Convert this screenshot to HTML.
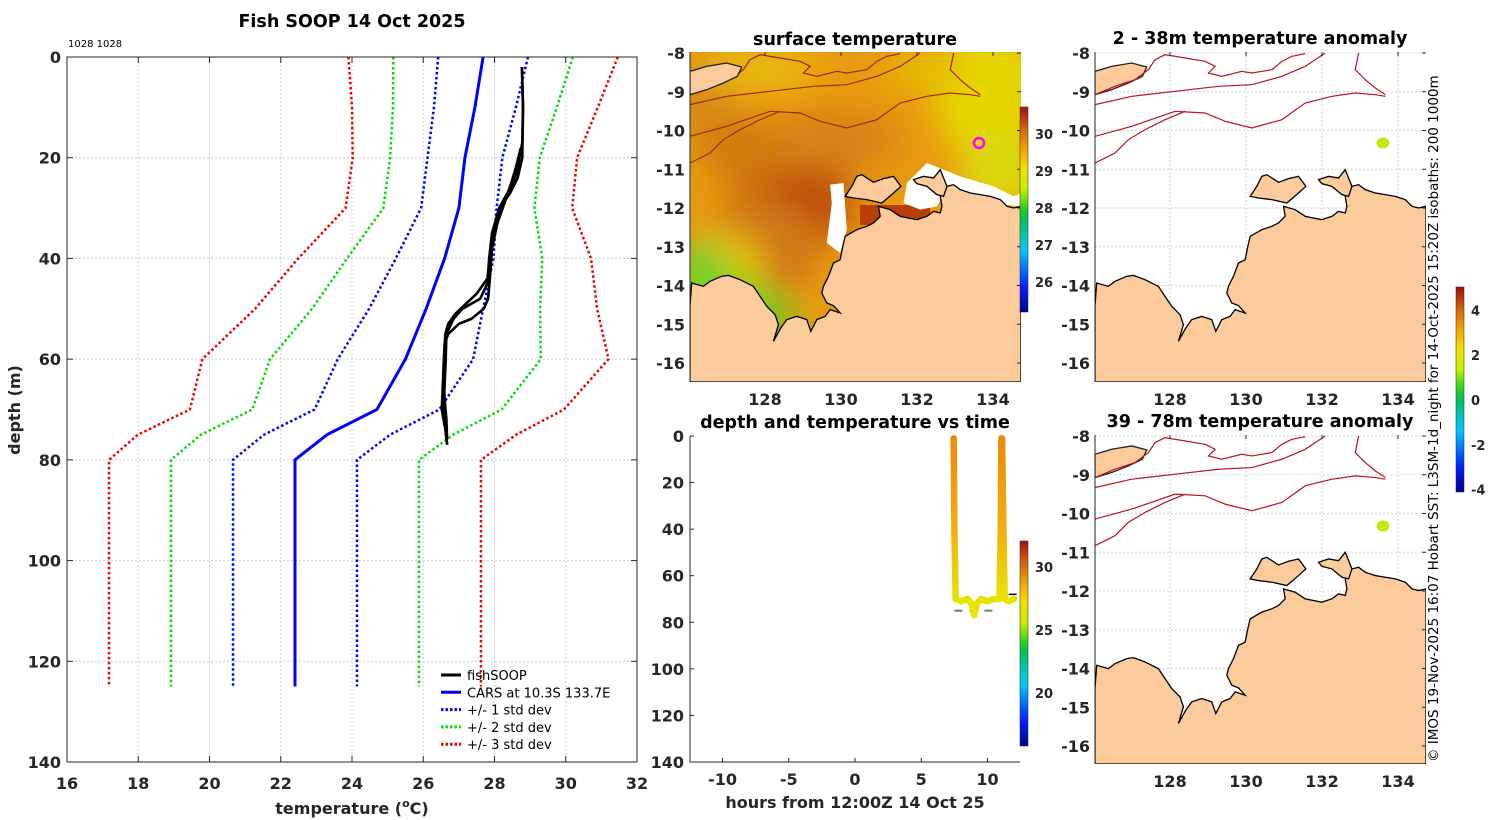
<!DOCTYPE html>
<html><head><meta charset="utf-8"><style>
html,body{margin:0;padding:0;background:#fff;}
svg{display:block;font-family:"DejaVu Sans","Liberation Sans",sans-serif;}
.tk{font-weight:bold;font-size:16px;fill:#262626;}
.ttl{font-weight:bold;font-size:17.5px;fill:#000;}
</style></head><body>
<svg id="root" width="1500" height="820" viewBox="0 0 1500 820" xmlns="http://www.w3.org/2000/svg">
<defs>
<linearGradient id="jet" x1="0" y1="1" x2="0" y2="0">
<stop offset="0" stop-color="#00008f"/><stop offset="0.12" stop-color="#0020ff"/><stop offset="0.3" stop-color="#00c8ff"/><stop offset="0.45" stop-color="#00c060"/><stop offset="0.5" stop-color="#20d020"/><stop offset="0.6" stop-color="#c8f000"/><stop offset="0.7" stop-color="#f0e000"/><stop offset="0.8" stop-color="#f0a000"/><stop offset="0.9" stop-color="#d06010"/><stop offset="1" stop-color="#a01010"/>
</linearGradient>
<linearGradient id="depthGrad" gradientUnits="userSpaceOnUse" x1="0" y1="436" x2="0" y2="600">
<stop offset="0" stop-color="#ea8a08"/><stop offset="0.5" stop-color="#f2a810"/><stop offset="1" stop-color="#e6e400"/>
</linearGradient>
<filter id="blur" x="-50%" y="-50%" width="200%" height="200%"><feGaussianBlur stdDeviation="16"/></filter>
<clipPath id="clipA"><rect x="690" y="52" width="331" height="330"/></clipPath>
<clipPath id="clipB"><rect x="1095" y="52" width="331" height="330"/></clipPath>
<clipPath id="clipC"><rect x="1095" y="435" width="331" height="329"/></clipPath>
</defs>
<g id="profile"></g>
<g id="maps"></g>
<g id="timeplot"></g>
</svg>
<script>
// ---------- profile chart data ----------
const carsDepths = [0,10,20,30,40,50,60,70,75,80,125];
const carsMean = [27.68,27.45,27.17,27.0,26.6,26.08,25.5,24.7,23.3,22.4,22.4];
const carsStd = [1.26,1.15,1.05,1.06,1.37,1.6,1.9,1.75,1.77,1.74,1.74];
const fishDepth1 = [2,10,17,20,23,26,30,35,40,45,48,50,52,55,60,65,70,73,75,77];
const fishTemp1 = [28.77,28.8,28.78,28.7,28.63,28.44,28.13,27.93,27.85,27.8,27.6,27.1,26.85,26.65,26.63,26.6,26.56,26.62,26.64,26.67];
const fishDepth2 = [2,10,20,24,27,30,35,40,44,47,49,51,53,55,60,65,70,74,77];
const fishTemp2 = [28.77,28.8,28.78,28.65,28.44,28.15,28.0,27.88,27.8,27.5,27.2,26.9,26.7,26.62,26.58,26.55,26.52,26.62,26.67];
const fishDepth3 = [18,22,25,28,33,38,44,48,50,52,53,55,57,62,68,72,76];
const fishTemp3 = [28.74,28.6,28.47,28.33,28.08,27.93,27.87,27.82,27.7,27.35,27.0,26.7,26.6,26.57,26.6,26.65,26.67];
const tempTicks = [16,18,20,22,24,26,28,30,32];
const depthTicks = [0,20,40,60,80,100,120,140];
const legendLabels = ["fishSOOP","CARS at 10.3S 133.7E","+/- 1 std dev","+/- 2 std dev","+/- 3 std dev"];
// ---------- time plot data ----------
const hoursVals = [7.45,7.5,7.6,8.0,8.5,8.8,9.0,9.2,9.5,10.0,10.5,10.9,11.0,11.05,11.1,11.2,11.3,11.6,12.0];
const hoursDepths = [1,40,70,71,70,72,77,72,70,71,70,70,40,1,1,40,70,71,70];
const hourTicks = [-10,-5,0,5,10];
const timeDepthTicks = [0,20,40,60,80,100,120,140];
const sstTicks = [26,27,28,29,30];
const tsTicks = [20,25,30];
const anomTicks = [-4,-2,0,2,4];
const latTicks = [-8,-9,-10,-11,-12,-13,-14,-15,-16];
const lonTicks = [128,130,132,134];

const NS="http://www.w3.org/2000/svg";
function mk(parent,tag,attrs,text){const e=document.createElementNS(NS,tag);for(const k in attrs)e.setAttribute(k,attrs[k]);if(text!==undefined)e.textContent=text;parent.appendChild(e);return e;}

// ---------- profile chart ----------
const P=document.getElementById('profile');
const px0=67,px1=637,py0=57,py1=762;
const xT=t=>px0+(t-16)*(px1-px0)/16;
const yD=d=>py0+d*(py1-py0)/140;
let e;
for(const t of tempTicks){
  if(t>16&&t<32){e=mk(P,'line',{x1:xT(t),x2:xT(t),y1:py0,y2:py1,stroke:'#c8cce0','stroke-width':1,'stroke-dasharray':'2 2'});}
  e=mk(P,'text',{x:xT(t),y:py1+27,'text-anchor':'middle',class:'tk'},String(t));
  
  mk(P,'line',{x1:xT(t),x2:xT(t),y1:py1,y2:py1-6,stroke:'#262626'});
  mk(P,'line',{x1:xT(t),x2:xT(t),y1:py0,y2:py0+6,stroke:'#262626'});
}
for(const d of depthTicks){
  if(d>0&&d<140){e=mk(P,'line',{x1:px0,x2:px1,y1:yD(d),y2:yD(d),stroke:'#c8cce0','stroke-width':1,'stroke-dasharray':'2 2'});}
  e=mk(P,'text',{x:px0-6,y:yD(d)+6,'text-anchor':'end',class:'tk'},String(d));
  
  mk(P,'line',{x1:px0,x2:px0+6,y1:yD(d),y2:yD(d),stroke:'#262626'});
  mk(P,'line',{x1:px1,x2:px1-6,y1:yD(d),y2:yD(d),stroke:'#262626'});
}
const stdColors=['#0000ff','#00e000','#f00000'];
for(let k=1;k<=3;k++){
  for(const s of [-1,1]){
    const pts=carsDepths.map((d,i)=>xT(carsMean[i]+s*k*carsStd[i])+','+yD(d)).join(' ');
    e=mk(P,'polyline',{points:pts,fill:'none',stroke:stdColors[k-1],'stroke-width':2.5,'stroke-dasharray':'2.5 2.5'});
    
  }
}
e=mk(P,'polyline',{points:carsDepths.map((d,i)=>xT(carsMean[i])+','+yD(d)).join(' '),fill:'none',stroke:'#0000ff','stroke-width':3});

[[fishDepth1,fishTemp1],[fishDepth2,fishTemp2],[fishDepth3,fishTemp3]].forEach((p,j)=>{
  e=mk(P,'polyline',{points:p[0].map((d,i)=>xT(p[1][i])+','+yD(d)).join(' '),fill:'none',stroke:'#000','stroke-width':2.6,'stroke-linejoin':'round'});
  
});
mk(P,'rect',{x:px0,y:py0,width:px1-px0,height:py1-py0,fill:'none',stroke:'#262626','stroke-width':1});
e=mk(P,'text',{x:352,y:27,'text-anchor':'middle',class:'ttl','font-size':'18px'},'Fish SOOP 14 Oct 2025');

e=mk(P,'text',{x:68,y:47,'font-size':'10px',fill:'#000'},'1028 1028');

e=mk(P,'text',{x:352,y:814,'text-anchor':'middle',class:'tk','font-size':'17px'});

e.innerHTML='temperature (<tspan dy="-7" font-size="11">o</tspan><tspan dy="7">C)</tspan>';
e=mk(P,'text',{x:0,y:0,'text-anchor':'middle',class:'tk','font-size':'17px',transform:'translate(20,410) rotate(-90)'},'depth (m)');

const legStyles=[['#000',''],['#0000ff',''],['#0000ff','2.5 2'],['#00e000','2.5 2'],['#f00000','2.5 2']];
legendLabels.forEach((l,i)=>{
  const y=675+i*17.3;
  const g=mk(P,'g',{});
  
  const a={x1:441,x2:461,y1:y,y2:y,stroke:legStyles[i][0],'stroke-width':3};
  if(legStyles[i][1])a['stroke-dasharray']=legStyles[i][1];
  mk(g,'line',a);
  mk(g,'text',{x:467,y:y+5,'font-size':'13px',fill:'#000'},l);
});

// ---------- maps ----------
const M=document.getElementById('maps');
const coast=[[90,830],[95,760],[130,770],[150,755],[185,740],[205,737],[240,750],[280,770],[300,800],[320,830],[345,855],[355,885],[340,935],[362,895],[380,870],[410,860],[440,870],[452,905],[470,870],[495,860],[510,840],[540,850],[520,828],[500,820],[485,790],[490,770],[505,740],[520,700],[540,690],[548,650],[555,620],[590,600],[620,590],[640,580],[660,560],[655,530],[690,540],[720,560],[770,570],[800,560],[820,545],[840,550],[845,530],[840,500],[860,470],[880,465],[900,480],[930,490],[960,495],[990,500],[1020,510],[1040,530],[1060,535],[1082,530],[1082,1057],[90,1057]];
const island=[[555,500],[575,470],[590,440],[605,435],[640,458],[670,447],[700,440],[722,470],[700,490],[665,520],[620,510],[580,505]];
const cobourg=[[760,450],[790,440],[820,445],[840,420],[860,470],[850,500],[830,495],[800,470],[770,462]];
const timor=[[90,125],[140,110],[200,100],[245,112],[232,140],[190,160],[140,180],[90,195]];
const contours=[
 [[90,320],[200,290],[330,245],[420,250],[480,275],[560,295],[650,270],[720,220],[800,200],[870,190],[930,195],[960,200]],
 [[90,400],[150,370],[190,330],[240,300],[300,270],[360,245]],
 [[90,225],[200,200],[330,185],[460,170],[560,165],[650,140],[720,110],[780,70]],
 [[90,195],[150,170],[210,150],[250,120],[270,90],[300,75],[360,85],[420,95],[450,110],[430,130],[470,140],[530,125],[560,130],[620,120],[650,95],[680,80],[720,72]],
 [[880,70],[870,120],[900,150],[930,175],[960,195]]
];
function proj(box,p){return [box.x+(p[0]-90)/992*box.w, box.y+(p[1]-67)/990*box.h];}
function poly(g,box,pts,attrs,name){
  const el=mk(g,'polygon',Object.assign({points:pts.map(p=>proj(box,p).join(',')).join(' ')},attrs));
  return el;}
function pline(g,box,pts,attrs,name){
  const el=mk(g,'polyline',Object.assign({points:pts.map(p=>proj(box,p).join(',')).join(' '),fill:'none'},attrs));
  return el;}
function axesTicks(box,name){
  latTicks.forEach((lat,i)=>{
    const y=box.y+1+i*38.75;
    const t=mk(M,'text',{x:box.x-5,y:y+6,'text-anchor':'end',class:'tk'},String(lat));
    
    mk(M,'line',{x1:box.x+box.w,x2:box.x+box.w-4,y1:y,y2:y,stroke:'#262626'});
  });
  lonTicks.forEach(lon=>{
    const x=box.x+75+(lon-128)*38;
    const t=mk(M,'text',{x:x,y:box.y+box.h+23,'text-anchor':'middle',class:'tk'},String(lon));
    
    mk(M,'line',{x1:x,x2:x,y1:box.y,y2:box.y+4,stroke:'#262626'});
  });
}
function drawLand(g,box){
  poly(g,box,coast,{fill:'#fbcb9b',stroke:'#000','stroke-width':1.3},'mainland');
  poly(g,box,island,{fill:'#fbcb9b',stroke:'#000','stroke-width':1.3},'melville-island');
  poly(g,box,cobourg,{fill:'#fbcb9b',stroke:'#000','stroke-width':1.3},'cobourg-peninsula');
  poly(g,box,timor,{fill:'#fbcb9b',stroke:'#222','stroke-width':1.3},'timor-land');
}
// SST map
const boxA={x:690,y:52,w:331,h:330};
let gA=mk(M,'g',{'clip-path':'url(#clipA)'});

mk(gA,'rect',{x:690,y:52,width:331,height:330,fill:'#e89a10'});
const blobs=[[990,95,55,70,'#e6d600'],[1000,170,40,40,'#dcd810'],[930,70,40,20,'#e6c000'],[790,180,60,60,'#cf6a10'],[810,205,45,40,'#c05010'],[760,250,60,50,'#d07814'],[830,140,70,30,'#d88012'],[720,270,45,40,'#e8c010'],[725,300,50,25,'#70d820'],[700,262,25,18,'#50d030'],[760,318,40,18,'#5cd020'],[700,105,40,40,'#d88a12'],[740,150,40,30,'#d07a10'],[760,70,60,18,'#e8c010']];
const gb=mk(gA,'g',{filter:'url(#blur)'});
blobs.forEach(b=>{const el=mk(gb,'ellipse',{cx:b[0],cy:b[1],rx:b[2],ry:b[3],fill:b[4]});});
mk(gA,'rect',{x:860,y:205,width:70,height:20,fill:'#b84008'});
poly(gA,boxA,[[510,465],[550,460],[560,600],[540,670],[500,640],[515,520]],{fill:'#fff'},'cloud-patch');
poly(gA,boxA,[[740,460],[800,400],[850,420],[900,440],[1000,470],[1060,500],[1082,490],[1082,530],[990,520],[930,500],[860,480],[830,530],[780,540],[730,520]],{fill:'#fff'},'cloud-patch');
contours.forEach(c=>pline(gA,boxA,c,{stroke:'#a02808','stroke-width':1.2},'isobath-contour'));
drawLand(gA,boxA);
e=mk(M,'circle',{cx:979,cy:143,r:5,fill:'none',stroke:'#ff00ff','stroke-width':2.5});

mk(M,'line',{x1:690,x2:690,y1:52,y2:382,stroke:'#262626'});
axesTicks(boxA,'sst');
e=mk(M,'text',{x:855,y:45,'text-anchor':'middle',class:'ttl'},'surface temperature');

e=mk(M,'rect',{x:1020,y:107,width:8,height:205,fill:'url(#jet)',stroke:'#262626','stroke-width':0.5});

const sstY=v=>134+(30-v)*37;
sstTicks.forEach(v=>{const t=mk(M,'text',{x:1035,y:sstY(v)+5,'font-size':'13px','font-weight':'bold',fill:'#262626'},String(v));});

// anomaly maps
const boxB={x:1095,y:52,w:331,h:330}, boxC={x:1095,y:435,w:331,h:329};
[[boxB,'clipB','2 - 38m temperature anomaly','anom-top'],[boxC,'clipC','39 - 78m temperature anomaly','anom-bottom']].forEach(cfg=>{
  const b=cfg[0];
  const g=mk(M,'g',{'clip-path':'url('+'#'+cfg[1]+')'});
  
  mk(g,'rect',{x:b.x,y:b.y,width:b.w,height:b.h,fill:'#fff'});
  latTicks.forEach((lat,i)=>mk(g,'line',{x1:b.x,x2:b.x+b.w,y1:b.y+1+i*38.75,y2:b.y+1+i*38.75,stroke:'#c8d0ec','stroke-dasharray':'2 2'}));
  lonTicks.forEach(lon=>mk(g,'line',{x1:b.x+75+(lon-128)*38,x2:b.x+75+(lon-128)*38,y1:b.y,y2:b.y+b.h,stroke:'#c8d0ec','stroke-dasharray':'2 2'}));
  drawLand(g,b);
  contours.forEach(c=>pline(g,b,c,{stroke:'#c01020','stroke-width':1.2},'isobath-contour'));
  const bl=mk(g,'ellipse',{cx:b.x+288,cy:b.y+91,rx:6.5,ry:5.5,fill:'#c0ea10'});
  
  mk(M,'line',{x1:b.x,x2:b.x,y1:b.y,y2:b.y+b.h,stroke:'#262626'});
  axesTicks(b,cfg[3]);
  const t=mk(M,'text',{x:1260,y:b.y-8,'text-anchor':'middle',class:'ttl'},cfg[2]);
  
});
e=mk(M,'rect',{x:1456,y:287,width:8,height:205,fill:'url(#jet)',stroke:'#262626','stroke-width':0.5});

const anY=v=>400-v*22.4;
anomTicks.forEach(v=>{const t=mk(M,'text',{x:1471,y:anY(v)+5,'font-size':'13px','font-weight':'bold',fill:'#262626'},String(v));});
e=mk(M,'text',{x:0,y:0,'font-size':'13.5px',fill:'#000',transform:'translate(1438,762) rotate(-90)'},'© IMOS 19-Nov-2025 16:07 Hobart SST: L3SM-1d_night for 14-Oct-2025 15:20Z isobaths: 200  1000m');


// ---------- depth/time plot ----------
const T=document.getElementById('timeplot');
const tx0=690,tx1=1020,ty0=436,ty1=762;
const xH=h=>855+h*13.25;
const yTD=d=>ty0+d*(ty1-ty0)/140;
timeDepthTicks.forEach(d=>{const t=mk(T,'text',{x:tx0-6,y:yTD(d)+6,'text-anchor':'end',class:'tk'},String(d));mk(T,'line',{x1:tx0,x2:tx0+4,y1:yTD(d),y2:yTD(d),stroke:'#262626'});});
hourTicks.forEach(h=>{const t=mk(T,'text',{x:xH(h),y:ty1+23,'text-anchor':'middle',class:'tk'},String(h));mk(T,'line',{x1:xH(h),x2:xH(h),y1:ty1,y2:ty1-4,stroke:'#262626'});});
mk(T,'polyline',{points:`${tx0},${ty0} ${tx0},${ty1} ${tx1},${ty1}`,fill:'none',stroke:'#262626'});
e=mk(T,'line',{x1:xH(7.5),x2:xH(10.8),y1:yTD(75),y2:yTD(75),stroke:'#777','stroke-width':2,'stroke-dasharray':'8 7'});

e=mk(T,'polyline',{points:hoursVals.map((h,i)=>xH(h)+','+yTD(hoursDepths[i])).join(' '),fill:'none',stroke:'url(#depthGrad)','stroke-width':6.5,'stroke-linejoin':'round','stroke-linecap':'round'});

mk(T,'line',{x1:xH(11.6),x2:xH(12.2),y1:yTD(68),y2:yTD(68),stroke:'#000','stroke-width':1.5});
e=mk(T,'text',{x:855,y:808,'text-anchor':'middle',class:'tk','font-size':'17px'},'hours from 12:00Z 14 Oct 25');

e=mk(T,'text',{x:855,y:428,'text-anchor':'middle',class:'ttl'},'depth and temperature vs time');

e=mk(T,'rect',{x:1020,y:541,width:8,height:205,fill:'url(#jet)',stroke:'#262626','stroke-width':0.5});

const tsY=v=>567+(30-v)*12.6;
tsTicks.forEach(v=>{const t=mk(T,'text',{x:1035,y:tsY(v)+5,'font-size':'13px','font-weight':'bold',fill:'#262626'},String(v));});
</script>
</body></html>
